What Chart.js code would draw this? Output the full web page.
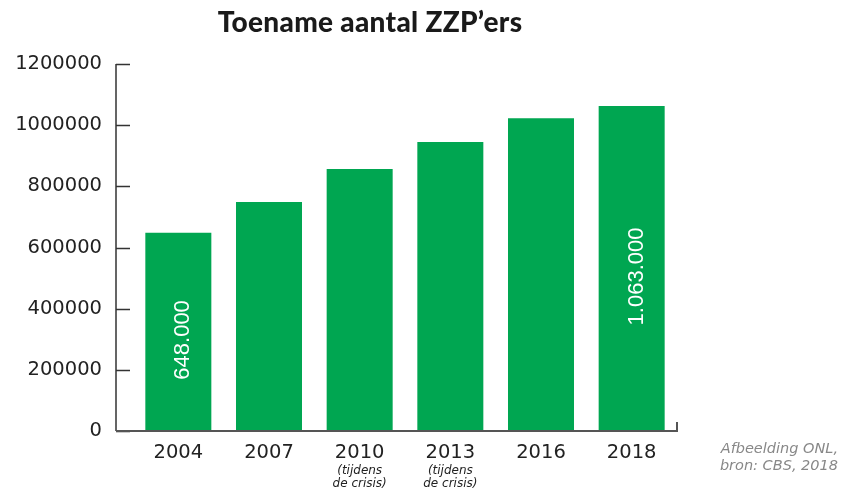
<!DOCTYPE html>
<html>
<head>
<meta charset="utf-8">
<script src="https://cdn.jsdelivr.net/npm/chart.js@4"></script>
<style>
  html, body { margin: 0; padding: 0; background: #fff; }
  #wrap { position: relative; width: 841px; height: 492px; }
</style>
</head>
<body>
<div id="wrap"><canvas id="chart"></canvas></div>
<script>
const years = ['2004', '2007', '2010', '2013', '2016', '2018'];
const subLabels = ['', '', '(tijdens|de crisis)', '(tijdens|de crisis)', '', ''];
const zzpers = [648000, 749000, 857000, 945000, 1023000, 1063000];
const barLabels = ['648.000', '', '', '', '', '1.063.000'];
const titleText = 'Toename aantal ZZP\u2019ers';
const sourceLines = ['Afbeelding ONL,', 'bron: CBS, 2018'];

const axisColor = '#333333';
const green = '#00a651';

Chart.defaults.font.family = "'DejaVu Sans', sans-serif";

// axis lines, sublabels, bar texts and title drawn on top
const extras = {
  id: 'extras',
  afterDraw(chart) {
    const { ctx, chartArea, scales } = chart;
    const y = scales.y, x = scales.x;
    const axisX = chartArea.left - 17;
    const y0 = y.getPixelForValue(0);
    const yTop = y.getPixelForValue(y.max);

    ctx.save();
    ctx.strokeStyle = axisColor;
    ctx.lineWidth = 1.5;
    ctx.beginPath();
    ctx.moveTo(axisX, yTop);
    ctx.lineTo(axisX, y0);
    y.ticks.forEach(t => {
      const py = Math.round(y.getPixelForValue(t.value)) + 0.5;
      ctx.moveTo(axisX, py);
      ctx.lineTo(axisX + 14, py);
    });
    ctx.stroke();

    ctx.strokeStyle = '#555555';
    ctx.lineWidth = 2;
    ctx.beginPath();
    ctx.moveTo(axisX, y0);
    ctx.lineTo(chartArea.right, y0);
    ctx.lineTo(chartArea.right, y0 - 9);
    ctx.stroke();

    // sublabels under the years
    ctx.fillStyle = '#222222';
    ctx.font = "italic 12px 'DejaVu Sans'";
    ctx.textAlign = 'center';
    ctx.textBaseline = 'middle';
    subLabels.forEach((s, i) => {
      if (!s) return;
      const px = x.getPixelForValue(i);
      s.split('|').forEach((line, j) => ctx.fillText(line, px, 471 + j * 13));
    });

    // values inside bars
    const meta = chart.getDatasetMeta(0);
    ctx.fillStyle = '#ffffff';
    ctx.font = "22px 'Liberation Sans'";
    barLabels.forEach((s, i) => {
      if (!s) return;
      const bar = meta.data[i];
      const cy = (bar.y + bar.base) / 2 + 8;
      ctx.save();
      ctx.translate(bar.x + 5, cy);
      ctx.rotate(-Math.PI / 2);
      ctx.fillText(s, 0, 0);
      ctx.restore();
    });

    // title
    ctx.fillStyle = '#1a1a1a';
    ctx.font = "900 28px Lato";
    ctx.letterSpacing = '0.3px';
    ctx.fillText(titleText, 370, 23);
    ctx.letterSpacing = '0px';

    // source
    ctx.fillStyle = '#888888';
    ctx.font = "italic 14.5px 'DejaVu Sans'";
    ctx.textAlign = 'right';
    sourceLines.forEach((line, j) => ctx.fillText(line, 838, 449 + j * 17));
    ctx.restore();
  }
};

new Chart(document.getElementById('chart'), {
  type: 'bar',
  data: {
    labels: years,
    datasets: [{
      data: zzpers,
      backgroundColor: green,
      borderWidth: 0,
      barPercentage: 0.728,
      categoryPercentage: 1
    }]
  },
  options: {
    responsive: true,
    maintainAspectRatio: false,
    animation: false,
    layout: { padding: { top: 64, right: 164, left: 0, bottom: 0 } },
    plugins: {
      legend: { display: false },
      tooltip: { enabled: false }
    },
    scales: {
      x: {
        grid: { display: false, drawTicks: false },
        border: { display: false },
        ticks: { color: '#222222', font: { size: 19.5 }, padding: 10 },
        afterFit(scale) { scale.height = 61; }
      },
      y: {
        min: 0,
        max: 1200000,
        grid: { display: false, drawTicks: false },
        border: { display: false },
        ticks: {
          stepSize: 200000,
          color: '#222222',
          font: { size: 19.5 },
          padding: 31,
          callback: v => String(v)
        },
        afterFit(scale) { scale.width = 133; }
      }
    }
  },
  plugins: [extras]
});
</script>
</body>
</html>
